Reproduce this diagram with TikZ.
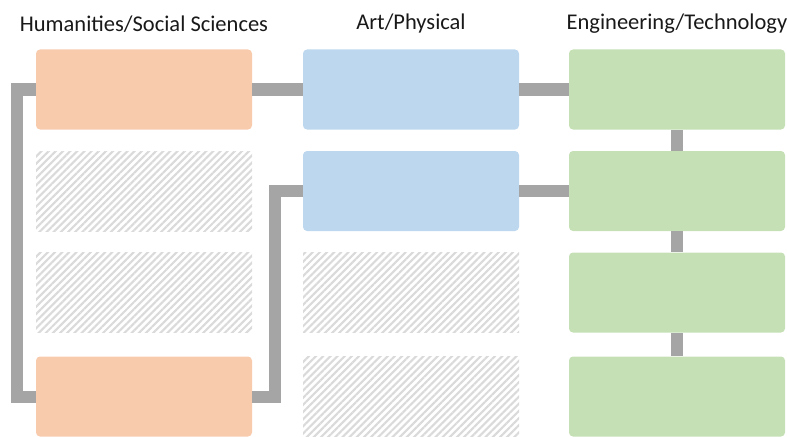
\documentclass[tikz,border=0pt]{standalone}
\usepackage{fontspec}
\setmainfont{Carlito}
\usetikzlibrary{patterns.meta}

\definecolor{humfill}{HTML}{F8CBAD}
\definecolor{artfill}{HTML}{BDD7EE}
\definecolor{engfill}{HTML}{C5E0B4}
\definecolor{linkgray}{HTML}{A5A5A5}
\definecolor{hatchgray}{HTML}{DADADA}

\tikzset{
  box/.style={minimum width=5.4cm,minimum height=2cm,rounded corners=0.1cm,inner sep=0pt},
  hum/.style={box,fill=humfill},
  art/.style={box,fill=artfill},
  eng/.style={box,fill=engfill},
  empty/.style={box,rounded corners=0pt,pattern={Lines[angle=45,distance=3.6pt,line width=1.5pt]},pattern color=hatchgray},
  link/.style={linkgray,line width=0.3cm,line join=miter},
  head/.style={font=\fontsize{16}{18}\selectfont,text=black!90}
}

\begin{document}
\begin{tikzpicture}
\useasboundingbox (0,0) rectangle (19.675,10.9);

% column titles
\node[head] (th) at (3.6,10.3) {Humanities/Social Sciences};
\node[head] (ta) at (10.275,10.3) {Art/Physical};
\node[head] (te) at (16.925,10.3) {Engineering/Technology};

% boxes
\node[hum] (hum1) at (3.6,8.6625) {};
\node[empty] (hum2) at (3.6,6.125) {};
\node[empty] (hum3) at (3.6,3.5875) {};
\node[hum] (hum4) at (3.6,0.9875) {};

\node[art] (art1) at (10.275,8.6625) {};
\node[art] (art2) at (10.275,6.125) {};
\node[empty] (art3) at (10.275,3.5875) {};
\node[empty] (art4) at (10.275,0.9875) {};

\foreach \i/\y in {1/8.6625,2/6.125,3/3.5875,4/0.9875}
  \node[eng] (eng\i) at (16.925,\y) {};

% links
\draw[link] (hum1.west) -- ++(-0.475,0) |- (hum4.west);
\draw[link] (hum4.east) -- ++(0.575,0) |- (art2.west);
\draw[link] (hum1.east) -- (art1.west);
\draw[link] (art1.east) -- (eng1.west);
\draw[link] (art2.east) -- (eng2.west);
\draw[link] (eng1.south) -- (eng2.north);
\draw[link] (eng2.south) -- (eng3.north);
\draw[link] (eng3.south) -- (eng4.north);

\end{tikzpicture}
\end{document}
